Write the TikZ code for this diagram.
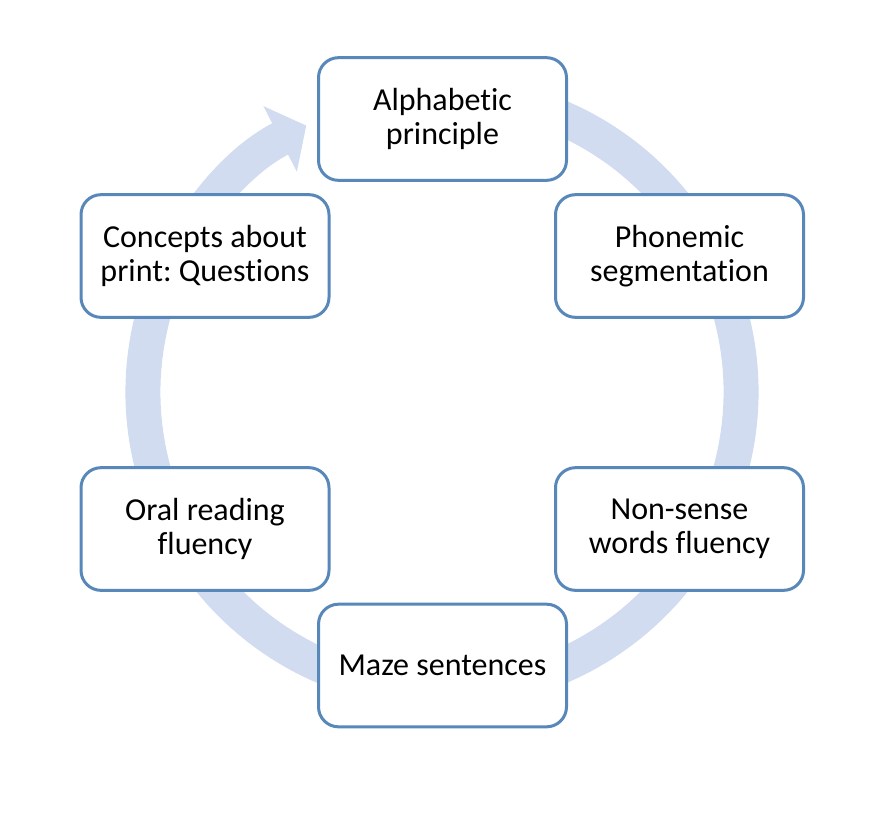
\documentclass[tikz,border=0pt]{standalone}
\usepackage{fontspec}
\setmainfont{Carlito}[Ligatures=NoCommon]
\frenchspacing
\usetikzlibrary{arrows.meta}
\definecolor{boxline}{RGB}{88,135,185}
\definecolor{ringfill}{RGB}{209,220,240}
\tikzset{
  stage/.style={draw=boxline,line width=2.25pt,fill=white,rounded corners=15pt,
    minimum width=186pt,minimum height=92pt,align=center,
    font=\fontsize{24}{25.5}\selectfont},
  ring/.style={draw=ringfill,line width=26.25pt}
}
\begin{document}
\begin{tikzpicture}[x=0.75pt,y=0.75pt]
            \useasboundingbox (0,0) rectangle (881,-819);
            \coordinate (c) at (442,-392);
            \draw[ring,-{Triangle[length=22pt,width=54pt,fill=ringfill]}] ([shift={(75:299)}]c) arc[start angle=75,end angle=-243,radius=299];
            \node[stage] (alpha) at (442.5,-119) {Alphabetic\\principle};
            \node[stage] (phon) at (679.5,-256) {Phonemic\\segmentation};
            \node[stage] (nonsense) at (679.5,-529) {Non-sense\\words fluency};
            \node[stage] (maze) at (442.5,-665.5) {Maze sentences};
            \node[stage] (oral) at (205,-529) {Oral reading\\fluency};
            \node[stage] (concepts) at (205,-256) {Concepts about\\print: Questions};
        \end{tikzpicture}
\end{document}
